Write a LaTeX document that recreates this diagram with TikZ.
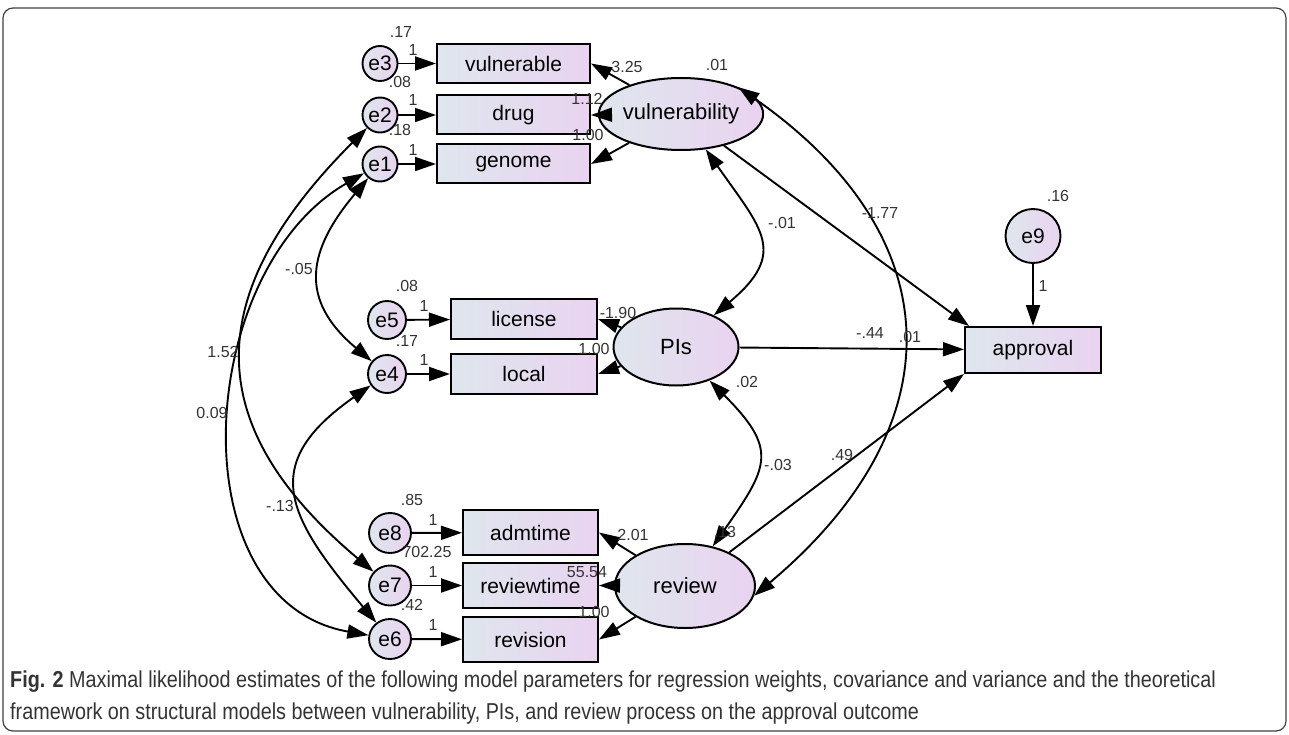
\documentclass[tikz,border=0pt]{standalone}
\usepackage{fontspec}
\setmainfont{Liberation Sans}
\newfontfamily\capfont[FakeStretch=0.86]{Liberation Sans}
\usepackage{tikz}
\usetikzlibrary{arrows.meta,shapes.geometric}
\definecolor{amosleft}{HTML}{DFE6ED}
\definecolor{amosright}{HTML}{E9D3F0}
\definecolor{captext}{HTML}{333333}

\begin{document}
\begin{tikzpicture}[x=1pt, y=1pt,
  >={Triangle[length=21pt,width=14pt]},
  reg/.style={->, line width=1.9pt},
  covar/.style={<->, line width=1.9pt},
  obsbox/.style={rectangle, draw, line width=2pt, left color=amosleft, right color=amosright,
    inner sep=0pt, font=\fontsize{21}{21}\selectfont},
  latent/.style={ellipse, draw, line width=2pt, left color=amosleft, right color=amosright,
    inner sep=0pt, font=\fontsize{22}{22}\selectfont},
  errc/.style={ellipse, draw, line width=1.9pt, left color=amosleft, right color=amosright,
    inner sep=0pt, font=\fontsize{21}{21}\selectfont},
  est/.style={inner sep=0pt, text=black!80, font=\fontsize{16}{16}\selectfont}]
  \useasboundingbox (0,0) rectangle (1289,-735);
  % Frame
  \draw[rounded corners=10pt, line width=1.2pt, black!75] (3,-8) rectangle (1286,-731);
  % Observed variables
  \node[obsbox, minimum width=153pt, minimum height=39pt] (vulnerable) at (513.5,-63.5) {vulnerable};
  \node[obsbox, minimum width=153pt, minimum height=39pt] (drug) at (513.5,-115) {drug};
  \node[obsbox, minimum width=153pt, minimum height=39pt] (genome) at (513.5,-164) {genome};
  \node[obsbox, minimum width=146pt, minimum height=40pt] (license) at (524,-319) {license};
  \node[obsbox, minimum width=146pt, minimum height=40pt] (local) at (524,-374) {local};
  \node[obsbox, minimum width=135pt, minimum height=45pt] (admtime) at (530.5,-532.5) {admtime};
  \node[obsbox, minimum width=135pt, minimum height=45pt] (reviewtime) at (530.5,-585.5) {reviewtime};
  \node[obsbox, minimum width=135pt, minimum height=45pt] (revision) at (530.5,-639.5) {revision};
  \node[obsbox, minimum width=136pt, minimum height=46pt] (approval) at (1033,-350) {approval};
  % Latent variables
  \node[latent, minimum width=132pt, minimum height=72pt] (vul) at (681,-114) {vulnerability};
  \node[latent, minimum width=125pt, minimum height=77pt] (pis) at (676,-347) {PIs};
  \node[latent, minimum width=140pt, minimum height=84pt] (review) at (685,-586) {review};
  % Error terms
  \node[errc, minimum width=35pt, minimum height=35pt] (e3) at (380,-63.5) {e3};
  \node[errc, minimum width=35pt, minimum height=35pt] (e2) at (380,-115) {e2};
  \node[errc, minimum width=35pt, minimum height=35pt] (e1) at (380,-164) {e1};
  \node[errc, minimum width=38pt, minimum height=38pt] (e5) at (387,-320) {e5};
  \node[errc, minimum width=38pt, minimum height=38pt] (e4) at (387,-374) {e4};
  \node[errc, minimum width=42pt, minimum height=40pt] (e8) at (390,-533) {e8};
  \node[errc, minimum width=42pt, minimum height=40pt] (e7) at (390,-585.5) {e7};
  \node[errc, minimum width=42pt, minimum height=40pt] (e6) at (390,-639) {e6};
  \node[errc, minimum width=55pt, minimum height=54pt] (e9) at (1033,-236) {e9};
  % Regression paths
  \foreach \e/\b in {e3/vulnerable, e2/drug, e1/genome, e5/license, e4/local,
    e8/admtime, e7/reviewtime, e6/revision, e9/approval}
    \draw[reg] (\e) -- (\b);
  \foreach \b in {vulnerable, drug, genome} \draw[reg] (vul) -- (\b.east);
  \foreach \b in {license, local} \draw[reg] (pis) -- (\b.east);
  \foreach \b in {admtime, reviewtime, revision} \draw[reg] (review) -- (\b.east);
  \draw[reg] (vul) -- ([xshift=5pt]approval.north west);
  \draw[reg] (pis) -- (approval);
  \draw[reg] (review) -- (approval.south west);
  % Covariances
  \draw[covar] (e2) to[out=225, in=140, looseness=1.33] (e7);
  \draw[covar] (e1) to[out=210, in=170, looseness=1.08] (e6);
  \draw[covar] (e1) to[out=230, in=140, looseness=1.33] (e4);
  \draw[covar] (e4) to[out=215, in=130, looseness=1.49] (e6);
  \draw[covar] (vul) to[out=305, in=40, looseness=1.5] (pis);
  \draw[covar] (pis) to[out=315, in=55, looseness=1.5] (review);
  \draw[covar] (vul.25) to[out=-35, in=40, looseness=1.32] (review.-8);
  % Estimates
  \node[est] (v3) at (401,-32) {.17};
  \node[est] (w3) at (413,-50) {1};
  \node[est] (v2) at (400,-82) {.08};
  \node[est] (w2) at (413,-100) {1};
  \node[est] (v1) at (400,-130) {.18};
  \node[est] (w1) at (413,-150) {1};
  \node[est] (l3) at (627,-67) {3.25};
  \node[est] (l2) at (587,-99) {1.12};
  \node[est] (l1) at (588,-135) {1.00};
  \node[est] (vv) at (717,-65) {.01};
  \node[est] (v5) at (407,-286) {.08};
  \node[est] (w5) at (424,-306) {1};
  \node[est] (v4) at (407,-341) {.17};
  \node[est] (w4) at (424,-360) {1};
  \node[est] (l5) at (618,-313) {-1.90};
  \node[est] (l4) at (594,-349) {1.00};
  \node[est] (vp) at (747,-382) {.02};
  \node[est] (c12) at (782,-223) {-.01};
  \node[est] (c23) at (778,-465) {-.03};
  \node[est] (c13) at (880,-213) {-1.77};
  \node[est] (bp) at (870,-333) {-.44};
  \node[est] (va) at (910,-337) {.01};
  \node[est] (br) at (842,-455) {.49};
  \node[est] (vr) at (725,-532) {.13};
  \node[est] (v9) at (1058,-196) {.16};
  \node[est] (w9) at (1043,-286) {1};
  \node[est] (c14) at (299,-269) {-.05};
  \node[est] (c27) at (223,-352) {1.52};
  \node[est] (c16) at (212,-413) {0.09};
  \node[est] (c46) at (280,-506) {-.13};
  \node[est] (v8) at (412,-500) {.85};
  \node[est] (w8) at (433,-520) {1};
  \node[est] (v7) at (427,-552) {702.25};
  \node[est] (w7) at (433,-572) {1};
  \node[est] (v6) at (412,-605) {.42};
  \node[est] (w6) at (433,-625) {1};
  \node[est] (l8) at (633,-535) {2.01};
  \node[est] (l7) at (587,-572) {55.54};
  \node[est] (l6) at (594,-612) {1.00};
  % Caption
  \node[anchor=base west, inner sep=0pt, text=captext, font=\capfont\fontsize{23}{23}\selectfont]
    (cap1) at (10,-687) {\textbf{Fig. 2} Maximal likelihood estimates of the following model parameters for regression weights, covariance and variance and the theoretical};
  \node[anchor=base west, inner sep=0pt, text=captext, font=\capfont\fontsize{23}{23}\selectfont]
    (cap2) at (10,-719) {framework on structural models between vulnerability, PIs, and review process on the approval outcome};
\end{tikzpicture}
\end{document}
